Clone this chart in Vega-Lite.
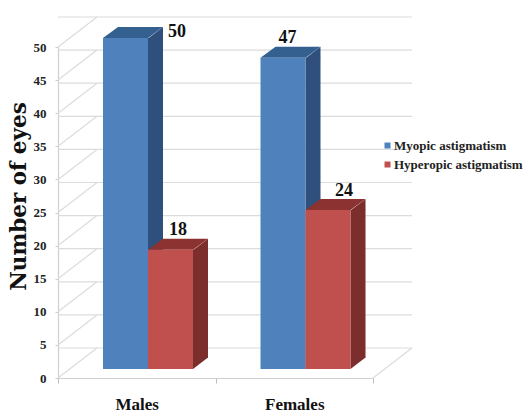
{
  "$schema": "https://vega.github.io/schema/vega-lite/v6.json",
  "autosize": {"type": "none"},
  "padding": {"left": 58, "top": 47, "right": 150, "bottom": 34},
  "width": 315,
  "height": 331,
  "background": "white",
  "config": {"view": {"stroke": null}},
  "datasets": {
    "eyes": [
      {"sex": "Males", "astigmatism": "Myopic astigmatism", "eyes": 50},
      {"sex": "Males", "astigmatism": "Hyperopic astigmatism", "eyes": 18},
      {"sex": "Females", "astigmatism": "Myopic astigmatism", "eyes": 47},
      {"sex": "Females", "astigmatism": "Hyperopic astigmatism", "eyes": 24}
    ],
    "gridlines": [
      {"tick": 0}, {"tick": 5}, {"tick": 10}, {"tick": 15}, {"tick": 20}, {"tick": 25},
      {"tick": 30}, {"tick": 35}, {"tick": 40}, {"tick": 45}, {"tick": 50}
    ]
  },
  "resolve": {"scale": {"fill": "independent", "xOffset": "independent"}},
  "layer": [
    {
      "description": "Carries both axes",
      "data": {"name": "eyes"},
      "mark": {"type": "bar", "opacity": 0},
      "encoding": {
        "x": {"field": "sex", "type": "nominal", "sort": ["Males", "Females"], "title": null,
              "scale": {"domain": ["Males", "Females"], "range": [0, 315], "paddingInner": 0, "paddingOuter": 0},
              "axis": {"labelAngle": 0, "tickBand": "extent", "tickSize": 5, "tickColor": "#bdbdbd", "domainColor": "#cfcfcf", "domainWidth": 1.2,
                       "labelFont": "Liberation Serif", "labelFontWeight": "bold", "labelFontSize": 17, "labelColor": "#111111", "labelPadding": 13}},
        "y": {"field": "eyes", "type": "quantitative", "title": "Number of eyes",
              "scale": {"domain": [0, 50], "nice": false},
              "axis": {"values": [0, 5, 10, 15, 20, 25, 30, 35, 40, 45, 50], "tickCount": 11, "grid": false, "labelOverlap": false, "tickSize": 3, "tickColor": "#cfcfcf", "domainColor": "#cfcfcf", "domainWidth": 1.2,
                       "labelFont": "Liberation Serif", "labelFontWeight": "bold", "labelFontSize": 13, "labelColor": "#222222", "labelPadding": 9,
                       "titleFont": "DejaVu Serif", "titleFontWeight": "bold", "titleFontSize": 21.5, "titleColor": "#111111", "titleX": -28, "titleY": 149}}
      }
    },
    {
      "description": "Back wall gridlines",
      "data": {"name": "gridlines"},
      "mark": {"type": "rule", "color": "#dcdcdc", "strokeWidth": 1.2, "xOffset": 39, "x2Offset": 39, "yOffset": -30, "y2Offset": -30},
      "encoding": {
        "y": {"field": "tick", "type": "quantitative", "title": "Number of eyes"}
      }
    },
    {
      "description": "Side wall gridlines running back from the value axis",
      "data": {"name": "gridlines"},
      "mark": {"type": "rule", "color": "#dcdcdc", "strokeWidth": 1.2, "x2Offset": 39, "y2Offset": -30},
      "encoding": {
        "x": {"value": 0},
        "x2": {"value": 0},
        "y": {"field": "tick", "type": "quantitative", "title": "Number of eyes"},
        "y2": {"field": "tick"}
      }
    },
    {
      "description": "Right edge of the floor",
      "data": {"values": [{"tick": 0}]},
      "mark": {"type": "rule", "color": "#dcdcdc", "strokeWidth": 1.2, "x2Offset": 39, "y2Offset": -30},
      "encoding": {
        "x": {"value": {"expr": "width"}},
        "x2": {"value": {"expr": "width"}},
        "y": {"field": "tick", "type": "quantitative", "title": "Number of eyes"},
        "y2": {"field": "tick"}
      }
    },
    {
      "description": "Side faces: upright part",
      "data": {"name": "eyes"},
      "mark": {"type": "bar", "width": 15, "yOffset": -9, "y2Offset": -20},
      "encoding": {
        "x": {"field": "sex", "type": "nominal", "title": null},
        "xOffset": {"field": "astigmatism", "type": "nominal", "scale": {"domain": ["Myopic astigmatism", "Hyperopic astigmatism"], "range": [75, 165], "paddingInner": 0, "paddingOuter": 0}},
        "y": {"field": "eyes", "type": "quantitative", "title": "Number of eyes"},
        "y2": {"datum": 0},
        "fill": {"field": "astigmatism", "type": "nominal", "legend": null,
                 "scale": {"domain": ["Myopic astigmatism", "Hyperopic astigmatism"], "range": ["#2f4f7c", "#7b2e2c"]}}
      }
    },
    {
      "description": "Side faces: slanted top end",
      "data": {"name": "eyes"},
      "mark": {"type": "point", "filled": true, "opacity": 1, "size": 4, "shape": "M22.5 0.4L37.5 -11L37.5 0.4Z", "yOffset": -9},
      "encoding": {
        "x": {"field": "sex", "type": "nominal", "title": null},
        "xOffset": {"field": "astigmatism", "type": "nominal", "scale": {"type": "point", "domain": ["Myopic astigmatism", "Hyperopic astigmatism"], "range": [67.5, 112.5], "padding": 0}},
        "y": {"field": "eyes", "type": "quantitative", "title": "Number of eyes"},
        "fill": {"field": "astigmatism", "type": "nominal", "legend": null,
                 "scale": {"domain": ["Myopic astigmatism", "Hyperopic astigmatism"], "range": ["#2f4f7c", "#7b2e2c"]}}
      }
    },
    {
      "description": "Side faces: slanted foot",
      "data": {"name": "eyes"},
      "mark": {"type": "point", "filled": true, "opacity": 1, "size": 4, "shape": "M22.5 0L22.5 -11.4L37.5 -11.4Z", "yOffset": -9},
      "encoding": {
        "x": {"field": "sex", "type": "nominal", "title": null},
        "xOffset": {"field": "astigmatism", "type": "nominal", "scale": {"type": "point", "domain": ["Myopic astigmatism", "Hyperopic astigmatism"], "range": [67.5, 112.5], "padding": 0}},
        "y": {"datum": 0, "type": "quantitative", "title": "Number of eyes"},
        "fill": {"field": "astigmatism", "type": "nominal", "legend": null,
                 "scale": {"domain": ["Myopic astigmatism", "Hyperopic astigmatism"], "range": ["#2f4f7c", "#7b2e2c"]}}
      }
    },
    {
      "description": "Top faces",
      "data": {"name": "eyes"},
      "mark": {"type": "point", "filled": true, "opacity": 1, "size": 4, "shape": "M-22.5 0L-7.5 -11L37.5 -11L22.5 0Z", "yOffset": -9},
      "encoding": {
        "x": {"field": "sex", "type": "nominal", "title": null},
        "xOffset": {"field": "astigmatism", "type": "nominal", "scale": {"type": "point", "domain": ["Myopic astigmatism", "Hyperopic astigmatism"], "range": [67.5, 112.5], "padding": 0}},
        "y": {"field": "eyes", "type": "quantitative", "title": "Number of eyes"},
        "fill": {"field": "astigmatism", "type": "nominal", "legend": null,
                 "scale": {"domain": ["Myopic astigmatism", "Hyperopic astigmatism"], "range": ["#34608f", "#8c3331"]}}
      }
    },
    {
      "description": "Front faces",
      "data": {"name": "eyes"},
      "mark": {"type": "bar", "yOffset": -9, "y2Offset": -9},
      "encoding": {
        "x": {"field": "sex", "type": "nominal", "title": null},
        "xOffset": {"field": "astigmatism", "type": "nominal", "scale": {"domain": ["Myopic astigmatism", "Hyperopic astigmatism"], "range": [45, 135], "paddingInner": 0, "paddingOuter": 0}},
        "y": {"field": "eyes", "type": "quantitative", "title": "Number of eyes"},
        "y2": {"datum": 0},
        "fill": {"field": "astigmatism", "type": "nominal",
                 "scale": {"domain": ["Myopic astigmatism", "Hyperopic astigmatism"], "range": ["#4f81bd", "#c0504d"]},
                 "legend": {"title": null, "orient": "none", "legendX": 323, "legendY": 92, "symbolType": "square", "symbolSize": 36, "rowPadding": 5, "labelOffset": 0,
                            "labelFont": "Liberation Serif", "labelFontWeight": "bold", "labelFontSize": 13, "labelColor": "#222222", "labelLimit": 200}}
      }
    },
    {
      "description": "Value labels above the bars",
      "data": {"name": "eyes"},
      "mark": {"type": "text", "font": "Liberation Serif", "fontWeight": "bold", "fontSize": 18, "color": "#111111",
               "dx": {"expr": "{'50': 51.5, '47': 4.5, '18': 7.5, '24': 16}[datum.eyes]"},
               "dy": {"expr": "datum.eyes === 50 ? -15 : -28.5"}},
      "encoding": {
        "x": {"field": "sex", "type": "nominal", "title": null},
        "xOffset": {"field": "astigmatism", "type": "nominal", "scale": {"type": "point", "domain": ["Myopic astigmatism", "Hyperopic astigmatism"], "range": [67.5, 112.5], "padding": 0}},
        "y": {"field": "eyes", "type": "quantitative", "title": "Number of eyes"},
        "text": {"field": "eyes", "type": "quantitative"}
      }
    }
  ]
}
